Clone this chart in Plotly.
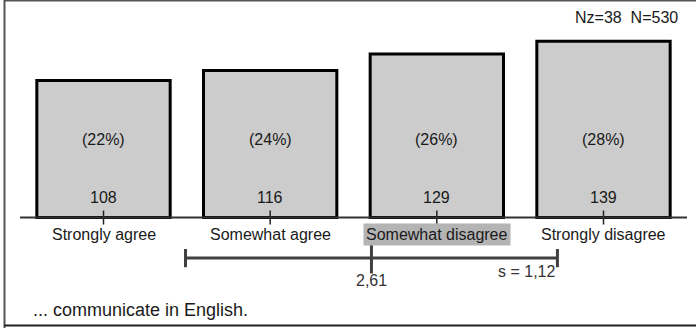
import plotly.graph_objects as go

categories = ["Strongly agree", "Somewhat agree", "Somewhat disagree", "Strongly disagree"]
counts = [108, 116, 129, 139]
n_total = 530
n_missing = 38
caption = "... communicate in English."

scale_vals = list(range(1, len(categories) + 1))
n_valid = sum(counts)
percents = [round(100 * c / n_valid) for c in counts]
mean = sum(v * c for v, c in zip(scale_vals, counts)) / n_valid
var = sum(c * (v - mean) ** 2 for v, c in zip(scale_vals, counts)) / (n_valid - 1)
sd = var ** 0.5
hi_idx = int(round(mean)) - 1

def de(x):
    return f"{x:.2f}".replace(".", ",")

FONT = "Arial, Liberation Sans, sans-serif"
TXT = "#1a1a1a"
mean_y = -32

fig = go.Figure()
fig.add_trace(go.Bar(
    x=scale_vals, y=counts, width=0.8,
    marker=dict(color="#cccccc", line=dict(color="#000000", width=3)),
    hoverinfo="skip",
))
# tick marks at category centers
fig.add_trace(go.Scatter(
    x=scale_vals, y=[0] * len(scale_vals), mode="markers",
    marker=dict(symbol="line-ns", size=10, line=dict(color="#222222", width=1.5)),
    hoverinfo="skip",
))
# mean +/- sd line
fig.add_trace(go.Scatter(
    x=[mean - sd, mean + sd], y=[mean_y, mean_y], mode="lines+markers",
    line=dict(color="#404040", width=3),
    marker=dict(symbol="line-ns", size=13, line=dict(color="#404040", width=3)),
    hoverinfo="skip",
))
fig.add_trace(go.Scatter(
    x=[mean], y=[mean_y], mode="markers",
    marker=dict(symbol="line-ns", size=22, line=dict(color="#404040", width=3)),
    hoverinfo="skip",
))

ann = []
for i, (v, c, p, cat) in enumerate(zip(scale_vals, counts, percents, categories)):
    ann.append(dict(x=v, y=0, text=f"({p}%)", showarrow=False, yanchor="middle",
                    yshift=78, font=dict(size=16, color=TXT, family=FONT)))
    ann.append(dict(x=v, y=0, text=str(c), showarrow=False, yanchor="middle",
                    yshift=20, font=dict(size=16, color=TXT, family=FONT)))
    a = dict(x=v, y=0, text=cat, showarrow=False, yanchor="middle", yshift=-17,
             font=dict(size=16, color=TXT, family=FONT))
    if i == hi_idx:
        a.update(bgcolor="#b4b4b4", borderpad=2)
    ann.append(a)

ann.append(dict(x=mean, y=mean_y, text=de(mean), showarrow=False, yanchor="middle",
                yshift=-22, font=dict(size=16, color="#333333", family=FONT)))
ann.append(dict(x=mean + sd, y=mean_y, text=f"s = {de(sd)}", showarrow=False,
                xanchor="right", yanchor="middle", yshift=-13,
                font=dict(size=16, color="#333333", family=FONT)))
ann.append(dict(xref="paper", yref="paper", x=680 / 696, y=1 - 17 / 328,
                text=f"Nz={n_missing}\u00a0\u00a0N={n_total}", showarrow=False,
                xanchor="right", yanchor="middle",
                font=dict(size=16, color=TXT, family=FONT)))
ann.append(dict(xref="paper", yref="paper", x=31 / 696, y=1 - 310 / 328,
                text=caption, showarrow=False, xanchor="left", yanchor="middle",
                font=dict(size=18, color=TXT, family=FONT)))

shapes = [
    dict(type="line", xref="paper", yref="y", x0=20 / 696, x1=687 / 696, y0=0, y1=0,
         line=dict(color="#333333", width=2), layer="above"),
    dict(type="line", xref="paper", yref="paper", x0=4.5 / 696, x1=4.5 / 696, y0=0, y1=1,
         line=dict(color="#555555", width=2)),
    dict(type="line", xref="paper", yref="paper", x0=4 / 696, x1=1, y0=1 - 0.5 / 328, y1=1 - 0.5 / 328,
         line=dict(color="#555555", width=2)),
    dict(type="line", xref="paper", yref="paper", x0=4 / 696, x1=1, y0=1 - 325.5 / 328, y1=1 - 325.5 / 328,
         line=dict(color="#222222", width=2)),
]

fig.update_layout(
    width=696, height=328, autosize=False,
    margin=dict(l=0, r=0, t=0, b=0),
    paper_bgcolor="white", plot_bgcolor="white",
    showlegend=False,
    xaxis=dict(range=[0.379, 4.555], visible=False, fixedrange=True),
    yaxis=dict(range=[-87.1, 171.5], visible=False, fixedrange=True),
    annotations=ann, shapes=shapes,
    font=dict(family=FONT),
)
fig.write_html(
    "out.html",
    config={"displayModeBar": False},
    post_script="document.body.style.margin='0';document.body.style.overflow='hidden';",
)
